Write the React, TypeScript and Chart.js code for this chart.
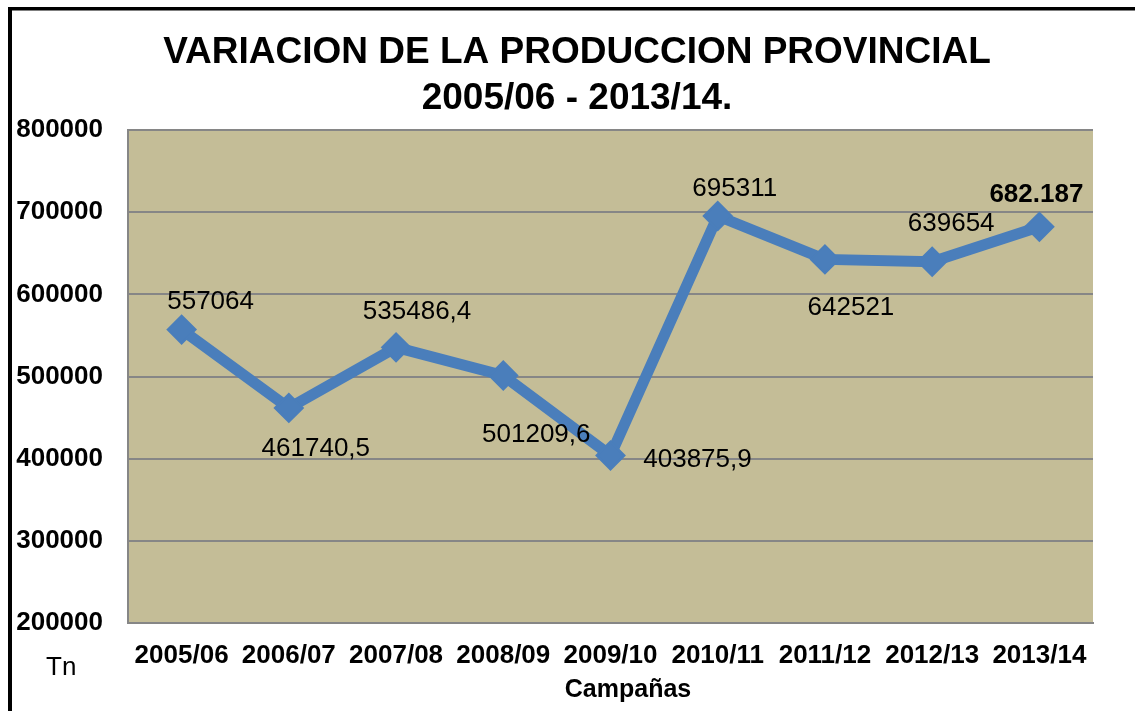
import React, { useEffect, useRef } from 'react';
import { Chart, registerables } from 'chart.js';

Chart.register(...registerables);

const categories = ['2005/06', '2006/07', '2007/08', '2008/09', '2009/10', '2010/11', '2011/12', '2012/13', '2013/14'];
const production = [557064, 461740.5, 535486.4, 501209.6, 403875.9, 695311, 642521, 639654, 682187];
const valueLabels = ['557064', '461740,5', '535486,4', '501209,6', '403875,9', '695311', '642521', '639654', '682.187'];
const boldLabel = [false, false, false, false, false, false, false, false, true];
const yTicks = [200000, 300000, 400000, 500000, 600000, 700000, 800000];
const titleLines = ['VARIACION DE LA PRODUCCION PROVINCIAL', '2005/06 - 2013/14.'];
const xAxisTitle = 'Campañas';
const unitLabel = 'Tn';

// label centre offsets from each point (px)
const labelOffsets: [number, number][] = [
  [29, -30], [27, 39], [21, -38], [33, 57], [87, 2], [17, -29], [26, 46], [19, -40], [-3, -34],
];

const FONT = "'Liberation Sans', Arial, sans-serif";

const decor = {
  id: 'decor',
  beforeDraw(chart: any) {
    const { ctx, chartArea: a } = chart;
    ctx.save();
    ctx.fillStyle = '#ffffff';
    ctx.fillRect(0, 0, chart.width, chart.height);
    ctx.fillStyle = '#c4bd97';
    ctx.fillRect(a.left, a.top, a.right - a.left, a.bottom - a.top);
    ctx.restore();
  },
  afterDraw(chart: any) {
    const { ctx } = chart;
    ctx.save();
    // outer frame (top & left)
    ctx.fillStyle = '#000';
    ctx.fillRect(8, 7, 4, chart.height - 7);
    ctx.fillRect(8, 7, chart.width - 8, 3.5);

    // title
    ctx.fillStyle = '#000';
    ctx.textAlign = 'center';
    ctx.textBaseline = 'alphabetic';
    ctx.font = `bold 37px ${FONT}`;
    ctx.fillText(titleLines[0], 577, 63);
    ctx.fillText(titleLines[1], 577, 109);

    // axis title
    ctx.font = `bold 25px ${FONT}`;
    ctx.fillText(xAxisTitle, 628, 697);

    // unit
    ctx.textAlign = 'left';
    ctx.font = `26px ${FONT}`;
    ctx.fillText(unitLabel, 46, 675);

    // data labels
    const meta = chart.getDatasetMeta(0);
    ctx.textAlign = 'center';
    meta.data.forEach((pt: any, i: number) => {
      const [dx, dy] = labelOffsets[i];
      ctx.font = `${boldLabel[i] ? 'bold ' : ''}26px ${FONT}`;
      ctx.fillText(valueLabels[i], pt.x + dx, pt.y + dy + 9.3);
    });
    ctx.restore();
  },
};

export default function App() {
  const ref = useRef<HTMLCanvasElement | null>(null);
  useEffect(() => {
    if (!ref.current) return;
    const chart = new Chart(ref.current, {
      type: 'line',
      data: {
        labels: categories,
        datasets: [
          {
            data: production,
            borderColor: '#4a7ebb',
            backgroundColor: '#4a7ebb',
            borderWidth: 11,
            pointStyle: 'rectRot',
            pointRadius: 14,
            pointBorderWidth: 2,
            pointBorderColor: '#4a7ebb',
            pointBackgroundColor: '#4a7ebb',
            tension: 0,
            borderJoinStyle: 'miter',
          },
        ],
      },
      options: {
        responsive: false,
        animation: false,
        layout: { padding: { left: 0, top: 130, right: 42, bottom: 0 } },
        plugins: {
          legend: { display: false },
          title: { display: false },
          tooltip: { enabled: false },
        },
        scales: {
          x: {
            offset: true,
            grid: { display: false, drawTicks: false },
            border: { display: true, color: '#868686', width: 2 },
            ticks: {
              color: '#000',
              font: { family: FONT, size: 26, weight: 'bold' },
              padding: 17,
              maxRotation: 0,
              autoSkip: false,
            },
            afterFit: (s: any) => {
              s.height = 88;
            },
          },
          y: {
            min: yTicks[0],
            max: yTicks[yTicks.length - 1],
            afterBuildTicks: (s: any) => {
              s.ticks = yTicks.map((v) => ({ value: v }));
            },
            grid: { color: '#868686', lineWidth: 2, drawTicks: false },
            border: { display: true, color: '#868686', width: 2 },
            ticks: {
              color: '#000',
              font: { family: FONT, size: 26, weight: 'bold' },
              padding: 25,
              callback: (v: any) => String(v),
            },
            afterFit: (s: any) => {
              s.width = 128;
            },
          },
        },
      },
      plugins: [decor],
    });
    return () => chart.destroy();
  }, []);
  return (
    <div style={{ position: 'absolute', left: 0, top: 0, width: 1135, height: 711 }}>
      <canvas ref={ref} width={1135} height={711} style={{ display: 'block' }} />
    </div>
  );
}
